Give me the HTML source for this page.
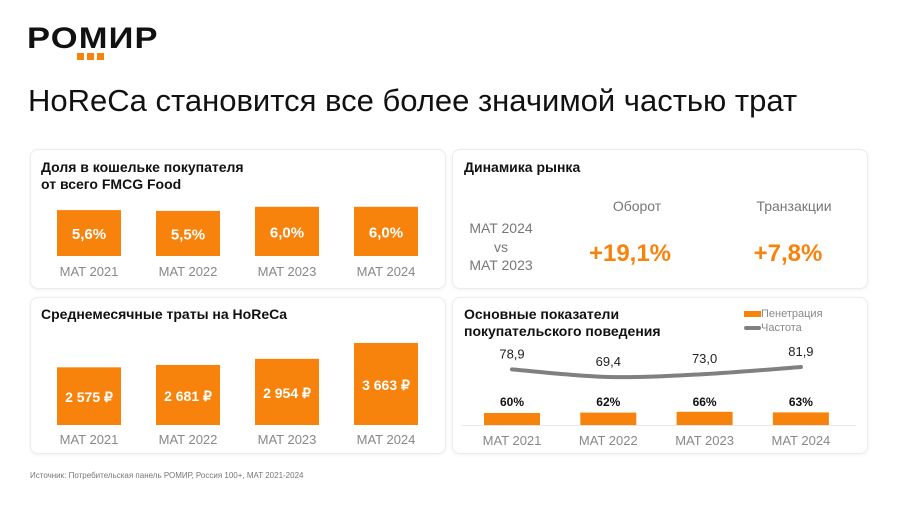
<!DOCTYPE html>
<html><head><meta charset="utf-8">
<style>
body{margin:0;width:900px;height:505px;background:#fff;font-family:"Liberation Sans",sans-serif;position:relative;overflow:hidden}
.abs{position:absolute}
.card{position:absolute;background:#fff;border:1px solid #ececec;border-radius:8px;box-shadow:0 1px 4px rgba(0,0,0,0.06)}
.ct{position:absolute;font-weight:bold;font-size:14px;line-height:17px;color:#111}
</style></head><body>
<div class="abs" style="left:27px;top:22px;font-weight:900;font-size:30px;letter-spacing:1px;color:#111;transform:scaleX(1.15);transform-origin:left top">РОМИР</div>
<div class="abs" style="left:77px;top:53px;width:27px;height:7px;background:linear-gradient(90deg,#f7830d 0 7px,transparent 7px 10px,#f7830d 10px 17px,transparent 17px 20px,#f7830d 20px 27px)"></div>
<div class="abs" style="left:28px;top:83px;font-size:31px;color:#111">HoReCa становится все более значимой частью трат</div>

<div class="card" style="left:30px;top:149px;width:414px;height:138px"></div>
<div class="ct" style="left:41px;top:159px">Доля в кошельке покупателя<br>от всего FMCG Food</div>

<div class="card" style="left:452px;top:149px;width:414px;height:138px"></div>
<div class="ct" style="left:464px;top:159px">Динамика рынка</div>
<div class="abs" style="left:451px;width:100px;top:219px;text-align:center;font-size:14px;line-height:18.5px;color:#777">MAT 2024<br>vs<br>MAT 2023</div>
<div class="abs" style="left:587px;width:100px;top:198px;text-align:center;font-size:14px;color:#777">Оборот</div>
<div class="abs" style="left:734px;width:120px;top:198px;text-align:center;font-size:14px;color:#777">Транзакции</div>
<div class="abs" style="left:570px;width:120px;top:240px;text-align:center;font-size:24px;font-weight:bold;color:#f7830d">+19,1%</div>
<div class="abs" style="left:728px;width:120px;top:240px;text-align:center;font-size:24px;font-weight:bold;color:#f7830d">+7,8%</div>

<div class="card" style="left:30px;top:297px;width:414px;height:155px"></div>
<div class="ct" style="left:41px;top:306px">Среднемесячные траты на HoReCa</div>

<div class="card" style="left:452px;top:297px;width:414px;height:155px"></div>
<div class="ct" style="left:464px;top:306px">Основные показатели<br>покупательского поведения</div>
<div class="abs" style="left:744px;top:308px;font-size:11px;color:#888"><span style="display:inline-block;width:17px;height:6px;background:#f7830d;vertical-align:middle"></span>Пенетрация</div>
<div class="abs" style="left:744px;top:322px;font-size:11px;color:#888"><span style="display:inline-block;width:17px;height:4px;border-radius:2px;background:#808080;vertical-align:middle"></span>Частота</div>

<div class="abs" style="left:30px;top:471px;font-size:8px;color:#777">Источник: Потребительская панель РОМИР, Россия 100+, MAT 2021-2024</div>

<svg class="abs" style="left:0;top:0" width="900" height="505" id="svg"></svg>
<script>
const categories=["MAT 2021","MAT 2022","MAT 2023","MAT 2024"];
const walletShare=[5.6,5.5,6.0,6.0];
const walletLabels=["5,6%","5,5%","6,0%","6,0%"];
const spend=[2575,2681,2954,3663];
const spendLabels=["2 575 ₽","2 681 ₽","2 954 ₽","3 663 ₽"];
const penetration=[60,62,66,63];
const penetrationLabels=["60%","62%","66%","63%"];
const frequency=[78.9,69.4,73.0,81.9];
const frequencyLabels=["78,9","69,4","73,0","81,9"];

const svg=document.getElementById('svg');
const NS="http://www.w3.org/2000/svg";
function mk(tag,attrs,txt){const e=document.createElementNS(NS,tag);for(const k in attrs)e.setAttribute(k,attrs[k]);if(txt!=null)e.textContent=txt;svg.appendChild(e);return e;}
function text(x,y,s,size,fill,weight){return mk('text',{x:x,y:y,'text-anchor':'middle','font-size':size,fill:fill,'font-weight':weight||'normal','font-family':'Liberation Sans, sans-serif'},s);}

const x1=i=>57+i*99, bw1=64, base1=256, y1=v=>v*8.2;
walletShare.forEach((v,i)=>{
  const h=y1(v);
  const r=mk('rect',{x:x1(i),y:base1-h,width:bw1,height:h,fill:'#f7830d'});
  
  
  const t=text(x1(i)+bw1/2,base1-h/2+6,walletLabels[i],15,'#fff','bold');
  
  
  const c=text(x1(i)+bw1/2,276,categories[i],13,'#888');
  
  
});
const base3=425, y3=v=>v*0.0224;
spend.forEach((v,i)=>{
  const h=y3(v);
  const r=mk('rect',{x:x1(i),y:base3-h,width:bw1,height:h,fill:'#f7830d'});
  
  
  const t=text(x1(i)+bw1/2,base3-h/2+6,spendLabels[i],14,'#fff','bold');
  
  
  const c=text(x1(i)+bw1/2,444,categories[i],13,'#888');
  
  
});
const x4=i=>484+i*96.3, bw4=56, base4=425, h4=v=>v*0.2, yf=v=>432.5-v*0.8;
const ax=mk('line',{x1:462,x2:856,y1:base4+0.5,y2:base4+0.5,stroke:'#e8e8e8'});


penetration.forEach((v,i)=>{
  const h=h4(v);
  const r=mk('rect',{x:x4(i),y:base4-h,width:bw4,height:h,fill:'#f7830d'});
  
  
  const t=text(x4(i)+bw4/2,406,penetrationLabels[i],12,'#111','bold');
  
  
  const c=text(x4(i)+bw4/2,445,categories[i],13,'#888');
  
  
});
const pts=frequency.map((v,i)=>[x4(i)+bw4/2,yf(v)]);
let d='M'+pts[0][0]+','+pts[0][1];
for(let i=1;i<pts.length;i++){
  const p0=pts[Math.max(0,i-2)],p1=pts[i-1],p2=pts[i],p3=pts[Math.min(pts.length-1,i+1)];
  const c1=[p1[0]+(p2[0]-p0[0])/6,p1[1]+(p2[1]-p0[1])/6];
  const c2=[p2[0]-(p3[0]-p1[0])/6,p2[1]-(p3[1]-p1[1])/6];
  d+=` C${c1[0]},${c1[1]} ${c2[0]},${c2[1]} ${p2[0]},${p2[1]}`;
}
const line=mk('path',{d:d,fill:'none',stroke:'#808080','stroke-width':4,'stroke-linecap':'round'});


frequency.forEach((v,i)=>{
  const t=text(pts[i][0],pts[i][1]-11,frequencyLabels[i],13,'#222');
  
  
});
</script>
</body></html>
